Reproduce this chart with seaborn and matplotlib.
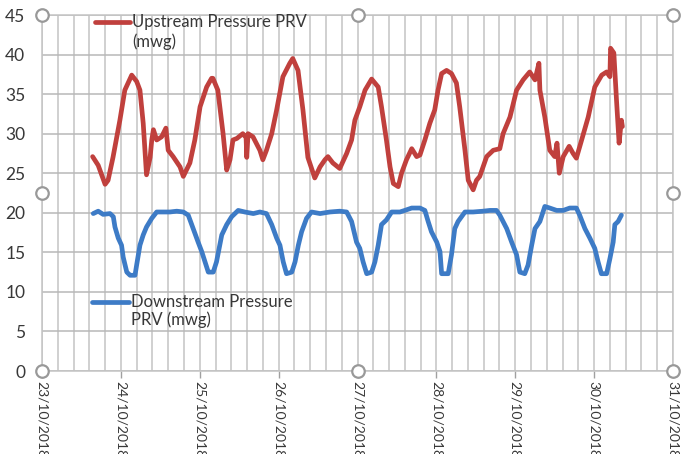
import numpy as np
import pandas as pd
import matplotlib
matplotlib.use("Agg")
import matplotlib.pyplot as plt
import seaborn as sns

# ---- data (hours since 23/10/2018 00:00, pressure in mwg) ----
up_hours = [15.4, 17.1, 19.2, 20.1, 21.6, 23.7, 25.2, 27.3, 28.8, 29.8, 30.8, 31.8, 32.9, 33.4,
            33.9, 34.9, 36.4, 37.7, 38.4, 39.9, 42.0, 43.0, 45.0, 46.5, 48.1, 50.1, 51.6, 52.0,
            53.5, 55.1, 56.2, 57.2, 58.1, 59.3, 61.1, 62.1, 62.3, 62.7, 64.2, 66.3, 67.2, 68.3,
            69.9, 71.4, 73.3, 75.4, 76.3, 77.9, 79.4, 80.9, 83.0, 84.6, 86.1, 87.0, 88.5, 90.6,
            92.7, 94.2, 95.2, 96.7, 98.3, 100.3, 102.3, 103.3, 104.8, 105.9, 106.9, 108.4, 109.4,
            110.9, 112.5, 114.0, 115.0, 116.5, 118.0, 119.5, 120.5, 121.6, 123.1, 124.6, 126.1,
            127.1, 128.7, 129.7, 130.7, 131.2, 132.2, 133.2, 135.3, 137.3, 139.3, 140.3, 142.4,
            144.4, 146.4, 148.4, 150.0, 151.2, 151.5, 153.0, 154.5, 156.0, 156.7, 157.4, 158.6,
            160.4, 161.6, 162.6, 164.2, 166.2, 168.2, 170.3, 171.8, 172.8, 173.0, 174.0, 174.8,
            175.6, 176.3, 176.6]
up_values = [27.1, 26.0, 23.6, 24.1, 27.0, 31.7, 35.5, 37.4, 36.6, 35.5, 31.3, 24.8, 27.0, 29.2,
             30.5, 29.2, 29.6, 30.7, 27.9, 27.1, 25.8, 24.6, 26.3, 29.2, 33.4, 35.9, 37.0, 37.0,
             35.5, 30.0, 25.4, 26.7, 29.2, 29.4, 30.0, 29.5, 27.0, 30.0, 29.6, 27.9, 26.7, 27.9,
             30.0, 33.0, 37.2, 38.9, 39.5, 38.0, 33.0, 27.0, 24.4, 25.8, 26.7, 27.1, 26.3, 25.6,
             27.5, 29.2, 31.7, 33.4, 35.5, 36.9, 35.9, 33.4, 29.2, 25.8, 23.7, 23.3, 25.0,
             26.7, 28.1, 27.1, 27.3, 29.2, 31.3, 33.0, 35.5, 37.6, 38.0, 37.6, 36.4,
             33.4, 27.9, 24.1, 23.3, 22.9, 24.1, 24.6, 27.1, 27.9, 28.1, 30.0, 32.1,
             35.5, 36.8, 37.8, 36.8, 38.9, 35.5, 32.1, 27.9, 27.1, 28.8, 25.0, 27.1,
             28.4, 27.5, 26.9, 29.2, 32.1, 35.9, 37.4, 37.8, 37.2, 40.8, 40.2, 34.3,
             28.8, 31.7, 30.9]

down_hours = [15.6, 17.1, 18.6, 20.7, 21.7, 22.2, 23.2, 24.2, 24.7, 25.8, 26.8, 28.3, 28.8, 29.8,
              30.8, 31.8, 33.4, 34.9, 36.9, 38.9, 41.0, 43.0, 44.5, 46.0, 47.5, 48.6, 49.6, 50.6,
              52.1, 53.1, 54.7, 56.2, 57.7, 59.7, 61.7, 64.3, 66.3, 68.3, 69.9, 71.4, 72.4, 73.4,
              74.4, 76.0, 77.0, 78.0, 79.0, 80.5, 82.0, 84.6, 87.6, 90.6, 92.7, 94.2, 95.7, 96.7,
              97.7, 98.8, 100.3, 101.3, 102.3, 103.3, 104.8, 106.4, 108.9, 110.4, 112.5, 115.0,
              116.5, 117.5, 118.5, 120.1, 121.1, 121.6, 123.6, 124.6, 125.6, 126.6, 128.7, 131.2,
              134.2, 136.3, 138.3, 139.3, 141.4, 142.9, 144.4, 145.4, 146.9, 147.9, 149.0, 150.0,
              151.5, 153.0, 154.5, 156.6, 158.6, 160.6, 162.6, 163.6, 165.2, 166.7, 168.2, 169.2,
              170.2, 171.8, 172.8, 173.8, 174.3, 175.3, 176.3]
down_values = [19.9, 20.2, 19.8, 19.9, 19.5, 18.2, 16.8, 15.9, 14.4, 12.5, 12.1, 12.1, 13.4, 15.9,
               17.2, 18.2, 19.3, 20.1, 20.1, 20.1, 20.2, 20.1, 19.7, 18.0, 16.3, 15.1, 13.8, 12.5,
               12.5, 13.8, 17.2, 18.5, 19.5, 20.3, 20.1, 19.9, 20.1, 19.9, 18.5, 16.8, 15.9, 13.8,
               12.3, 12.5, 13.8, 15.9, 17.6, 19.3, 20.1, 19.9, 20.1, 20.2, 20.1, 18.9, 16.3, 15.5,
               13.8, 12.3, 12.5, 13.8, 15.9, 18.5, 19.1, 20.1, 20.1, 20.3, 20.6, 20.6,
               20.3, 18.9, 17.6, 16.3, 15.1, 12.3, 12.3, 14.7, 18.0, 18.9, 20.1, 20.1,
               20.2, 20.3, 20.3, 19.7, 18.0, 16.3, 14.7, 12.5, 12.3, 13.4, 15.9, 18.0,
               18.9, 20.8, 20.6, 20.3, 20.3, 20.6, 20.6, 19.7, 18.0, 16.8, 15.5, 13.8,
               12.3, 12.3, 14.2, 16.3, 18.5, 18.9, 19.7]

date_labels = ["23/10/2018", "24/10/2018", "25/10/2018", "26/10/2018", "27/10/2018",
               "28/10/2018", "29/10/2018", "30/10/2018", "31/10/2018"]
y_ticks = [0, 5, 10, 15, 20, 25, 30, 35, 40, 45]
up_label = "Upstream Pressure PRV"
up_label2 = "(mwg)"
down_label = "Downstream Pressure"
down_label2 = "PRV (mwg)"

red = "#C0403D"
blue = "#3D7BC6"
grid_c = "#C4C4C4"
text_c = "#383838"

df = pd.concat([
    pd.DataFrame({"day": np.array(up_hours) / 24.0, "value": up_values, "series": "up"}),
    pd.DataFrame({"day": np.array(down_hours) / 24.0, "value": down_values, "series": "down"}),
])

sns.set_theme(style="white")
plt.rcParams["font.family"] = ["Lato", "DejaVu Sans"]

fig = plt.figure(figsize=(6.81, 4.54), dpi=100)
ax = fig.add_axes([42 / 681, 1 - 371 / 454, 631 / 681, 356 / 454])

sns.lineplot(data=df, x="day", y="value", hue="series", palette={"up": red, "down": blue},
             linewidth=3.4, legend=False, ax=ax, sort=False, estimator=None)

ax.set_xlim(0, 8)
ax.set_ylim(0, 45)
ax.set_xticks(range(len(date_labels)))
ax.set_xticklabels(date_labels, rotation=-90, fontsize=10, color=text_c)
ax.set_xticks(np.arange(0, 8.01, 0.2), minor=True)
ax.set_yticks(y_ticks)
ax.set_yticklabels([str(v) for v in y_ticks], fontsize=12.5, color=text_c)
ax.set_xlabel("")
ax.set_ylabel("")

ax.grid(True, which="both", axis="x", color=grid_c, linewidth=1.1)
ax.grid(True, which="major", axis="y", color="#B8B8B8", linewidth=1.1)
ax.set_axisbelow(True)
for s in ax.spines.values():
    s.set_color(grid_c)
    s.set_linewidth(1.1)

ax.tick_params(axis="x", which="major", length=5, width=1, color="#A0A0A0", pad=2, direction="out", bottom=True)
ax.tick_params(axis="x", which="minor", length=0)
ax.tick_params(axis="y", length=0, pad=12)

# legend-like labels
tr = ax.transAxes
ax.plot([0.084, 0.139], [0.980, 0.980], color=red, linewidth=3.4, transform=tr, clip_on=False)
ax.text(0.1426, 0.980, up_label, transform=tr, fontsize=12, color=text_c, va="center", ha="left")
ax.text(0.1426, 0.924, up_label2, transform=tr, fontsize=12, color=text_c, va="center", ha="left")
ax.plot([0.080, 0.138], [0.194, 0.194], color=blue, linewidth=3.4, transform=tr, clip_on=False)
ax.text(0.1410, 0.194, down_label, transform=tr, fontsize=12, color=text_c, va="center", ha="left")
ax.text(0.1410, 0.143, down_label2, transform=tr, fontsize=12, color=text_c, va="center", ha="left")

# selection handles (chart object handles)
hx = [0, 0, 0, 0.5, 0.5, 1, 1, 1]
hy = [0, 0.5, 1, 0, 1, 0, 0.5, 1]
ax.plot(hx, hy, linestyle="none", marker="o", markersize=9, markerfacecolor="white",
        markeredgecolor="#999999", markeredgewidth=1.6, transform=tr, clip_on=False, zorder=10)

fig.savefig("out.png", dpi=100)
